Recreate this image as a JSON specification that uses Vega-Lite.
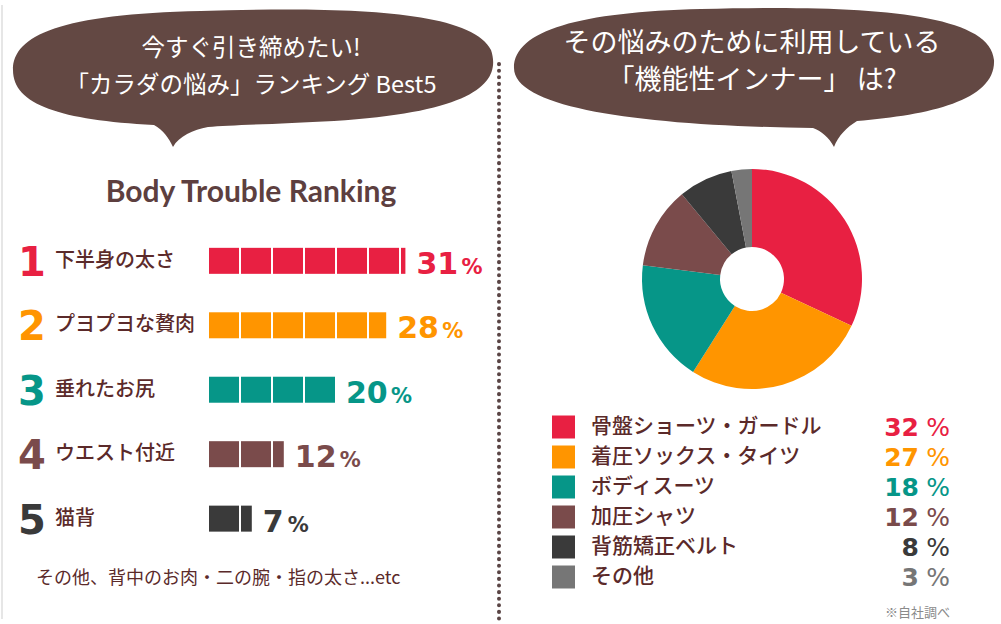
{
  "$schema": "https://vega.github.io/schema/vega-lite/v6.json",
  "padding": 0,
  "background": "#ffffff",
  "config": {"view": {"stroke": null}},
  "datasets": {
    "titles": [
      {"id": "L", "text": "今すぐ引き締めたい!\n「カラダの悩み」ランキング Best5"},
      {"id": "R", "text": "その悩みのために利用している\n「機能性インナー」 は?"},
      {"id": "H", "text": "Body Trouble Ranking"},
      {"id": "LF", "text": "その他、背中のお肉・二の腕・指の太さ...etc"},
      {"id": "RF", "text": "※自社調べ"}
    ],
    "ranking": [
      {"rank": 1, "name": "下半身の太さ", "pct": 31},
      {"rank": 2, "name": "プヨプヨな贅肉", "pct": 28},
      {"rank": 3, "name": "垂れたお尻", "pct": 20},
      {"rank": 4, "name": "ウエスト付近", "pct": 12},
      {"rank": 5, "name": "猫背", "pct": 7}
    ],
    "blocks": [
      {"rank": 1, "from": 0, "to": 5}, {"rank": 1, "from": 5, "to": 10}, {"rank": 1, "from": 10, "to": 15},
      {"rank": 1, "from": 15, "to": 20}, {"rank": 1, "from": 20, "to": 25}, {"rank": 1, "from": 25, "to": 30},
      {"rank": 1, "from": 30, "to": 31},
      {"rank": 2, "from": 0, "to": 5}, {"rank": 2, "from": 5, "to": 10}, {"rank": 2, "from": 10, "to": 15},
      {"rank": 2, "from": 15, "to": 20}, {"rank": 2, "from": 20, "to": 25}, {"rank": 2, "from": 25, "to": 28},
      {"rank": 3, "from": 0, "to": 5}, {"rank": 3, "from": 5, "to": 10}, {"rank": 3, "from": 10, "to": 15},
      {"rank": 3, "from": 15, "to": 20},
      {"rank": 4, "from": 0, "to": 5}, {"rank": 4, "from": 5, "to": 10}, {"rank": 4, "from": 10, "to": 12},
      {"rank": 5, "from": 0, "to": 5}, {"rank": 5, "from": 5, "to": 7}
    ],
    "inner": [
      {"ord": 1, "name": "骨盤ショーツ・ガードル", "pct": 32},
      {"ord": 2, "name": "着圧ソックス・タイツ", "pct": 27},
      {"ord": 3, "name": "ボディスーツ", "pct": 18},
      {"ord": 4, "name": "加圧シャツ", "pct": 12},
      {"ord": 5, "name": "背筋矯正ベルト", "pct": 8},
      {"ord": 6, "name": "その他", "pct": 3}
    ]
  },
  "spacing": 1,
  "bounds": "flush",
  "resolve": {"scale": {"color": "independent"}},
  "hconcat": [
    {
      "width": 500,
      "height": 624,
      "layer": [
        {
          "data": {"name": "titles"},
          "transform": [{"filter": "datum.id === 'L'"}],
          "mark": {"type": "rule", "stroke": "#e6e6e6", "strokeWidth": 2},
          "encoding": {
            "x": {"datum": -32.344, "type": "quantitative", "scale": {"domain": [-32.5, 45.625], "nice": false, "zero": false}, "axis": null},
            "y": {"datum": -2.9695, "type": "quantitative", "scale": {"domain": [-2.9695, 6.5573], "nice": false, "zero": false, "reverse": true}, "axis": null},
            "y2": {"datum": 6.5573}
          }
        },
        {
          "data": {"name": "titles"},
          "transform": [{"filter": "datum.id === 'L'"}],
          "mark": {
            "type": "point",
            "shape": "M -238 -242 C -238 -277 -190 -298 -50 -301 C 80 -305 220 -304 240 -262 C 250 -232 230 -200 83 -191 C 30 -188 -20 -187 -43 -185 C -58 -182 -72 -176 -78 -165 C -82 -174 -88 -182 -97 -187 C -190 -192 -238 -207 -238 -242 Z",
            "size": 4,
            "filled": true,
            "fill": "#634843",
            "strokeWidth": 0,
            "opacity": 1
          },
          "encoding": {}
        },
        {
          "data": {"name": "titles"},
          "transform": [{"filter": "datum.id === 'L'"}],
          "mark": {"type": "text", "lineBreak": "\n", "lineHeight": 37, "align": "center", "baseline": "middle", "font": "Noto Sans CJK JP", "fontSize": 23.5, "color": "#ffffff"},
          "encoding": {
            "y": {"datum": -2.29, "type": "quantitative", "scale": {"domain": [-2.9695, 6.5573], "nice": false, "zero": false, "reverse": true}, "axis": null},
            "text": {"field": "text"}
          }
        },
        {
          "data": {"name": "titles"},
          "transform": [{"filter": "datum.id === 'H'"}],
          "mark": {"type": "text", "align": "center", "baseline": "middle", "font": "Lato", "fontWeight": "bold", "fontSize": 30, "color": "#5d3f3f"},
          "encoding": {
            "y": {"datum": -0.0458, "type": "quantitative", "scale": {"domain": [-2.9695, 6.5573], "nice": false, "zero": false, "reverse": true}, "axis": null},
            "text": {"field": "text"}
          }
        },
        {
          "data": {"name": "titles"},
          "transform": [{"filter": "datum.id === 'L'"}],
          "mark": {"type": "rule", "stroke": "#5a4545", "strokeWidth": 4, "strokeCap": "round", "strokeDash": [0.1, 6.5]},
          "encoding": {
            "x": {"datum": 45.3125, "type": "quantitative", "scale": {"domain": [-32.5, 45.625], "nice": false, "zero": false}, "axis": null},
            "y": {"datum": -2.0534, "type": "quantitative", "scale": {"domain": [-2.9695, 6.5573], "nice": false, "zero": false, "reverse": true}, "axis": null},
            "y2": {"datum": 6.5573}
          }
        },
        {
          "data": {"name": "blocks"},
          "mark": {"type": "bar", "size": 26, "x2Offset": -2},
          "encoding": {
            "x": {"field": "from", "type": "quantitative", "scale": {"domain": [-32.5, 45.625], "nice": false, "zero": false}, "axis": null},
            "x2": {"field": "to"},
            "y": {"field": "rank", "type": "quantitative", "scale": {"domain": [-2.9695, 6.5573], "nice": false, "zero": false, "reverse": true}, "axis": null},
            "color": {"field": "rank", "type": "nominal", "scale": {"domain": [1, 2, 3, 4, 5], "range": ["#e82042", "#ff9500", "#069688", "#7a4b4b", "#3a3a3a"]}, "legend": null}
          }
        },
        {
          "data": {"name": "ranking"},
          "mark": {"type": "text", "align": "center", "baseline": "alphabetic", "dy": 15, "font": "DejaVu Sans", "fontWeight": "bold", "fontSize": 40},
          "encoding": {
            "x": {"datum": -27.66, "type": "quantitative", "scale": {"domain": [-32.5, 45.625], "nice": false, "zero": false}, "axis": null},
            "y": {"field": "rank", "type": "quantitative", "scale": {"domain": [-2.9695, 6.5573], "nice": false, "zero": false, "reverse": true}, "axis": null},
            "text": {"field": "rank"},
            "color": {"field": "rank", "type": "nominal", "scale": {"domain": [1, 2, 3, 4, 5], "range": ["#e82042", "#ff9500", "#069688", "#7a4b4b", "#3a3a3a"]}, "legend": null}
          }
        },
        {
          "data": {"name": "ranking"},
          "mark": {"type": "text", "align": "left", "baseline": "middle", "font": "Noto Sans CJK JP", "fontWeight": 500, "fontSize": 20, "color": "#5b2a2a"},
          "encoding": {
            "x": {"datum": -24.06, "type": "quantitative", "scale": {"domain": [-32.5, 45.625], "nice": false, "zero": false}, "axis": null},
            "y": {"field": "rank", "type": "quantitative", "scale": {"domain": [-2.9695, 6.5573], "nice": false, "zero": false, "reverse": true}, "axis": null},
            "text": {"field": "name"}
          }
        },
        {
          "data": {"name": "ranking"},
          "mark": {"type": "text", "align": "left", "baseline": "alphabetic", "dx": 9, "dy": 13, "font": "DejaVu Sans", "fontWeight": "bold", "fontSize": 30},
          "encoding": {
            "x": {"field": "pct", "type": "quantitative", "scale": {"domain": [-32.5, 45.625], "nice": false, "zero": false}, "axis": null},
            "y": {"field": "rank", "type": "quantitative", "scale": {"domain": [-2.9695, 6.5573], "nice": false, "zero": false, "reverse": true}, "axis": null},
            "text": {"field": "pct"},
            "color": {"field": "rank", "type": "nominal", "scale": {"domain": [1, 2, 3, 4, 5], "range": ["#e82042", "#ff9500", "#069688", "#7a4b4b", "#3a3a3a"]}, "legend": null}
          }
        },
        {
          "data": {"name": "ranking"},
          "transform": [{"filter": "datum.pct >= 10"}],
          "mark": {"type": "text", "text": "%", "align": "left", "baseline": "alphabetic", "dx": 54, "dy": 13, "font": "DejaVu Sans", "fontWeight": "bold", "fontSize": 21},
          "encoding": {
            "x": {"field": "pct", "type": "quantitative", "scale": {"domain": [-32.5, 45.625], "nice": false, "zero": false}, "axis": null},
            "y": {"field": "rank", "type": "quantitative", "scale": {"domain": [-2.9695, 6.5573], "nice": false, "zero": false, "reverse": true}, "axis": null},
            "color": {"field": "rank", "type": "nominal", "scale": {"domain": [1, 2, 3, 4, 5], "range": ["#e82042", "#ff9500", "#069688", "#7a4b4b", "#3a3a3a"]}, "legend": null}
          }
        },
        {
          "data": {"name": "ranking"},
          "transform": [{"filter": "datum.pct < 10"}],
          "mark": {"type": "text", "text": "%", "align": "left", "baseline": "alphabetic", "dx": 34, "dy": 13, "font": "DejaVu Sans", "fontWeight": "bold", "fontSize": 21},
          "encoding": {
            "x": {"field": "pct", "type": "quantitative", "scale": {"domain": [-32.5, 45.625], "nice": false, "zero": false}, "axis": null},
            "y": {"field": "rank", "type": "quantitative", "scale": {"domain": [-2.9695, 6.5573], "nice": false, "zero": false, "reverse": true}, "axis": null},
            "color": {"field": "rank", "type": "nominal", "scale": {"domain": [1, 2, 3, 4, 5], "range": ["#e82042", "#ff9500", "#069688", "#7a4b4b", "#3a3a3a"]}, "legend": null}
          }
        },
        {
          "data": {"name": "titles"},
          "transform": [{"filter": "datum.id === 'LF'"}],
          "mark": {"type": "text", "align": "left", "baseline": "middle", "font": "Noto Sans CJK JP", "fontSize": 18, "color": "#5b2a2a"},
          "encoding": {
            "x": {"datum": -27.03, "type": "quantitative", "scale": {"domain": [-32.5, 45.625], "nice": false, "zero": false}, "axis": null},
            "y": {"datum": 5.9313, "type": "quantitative", "scale": {"domain": [-2.9695, 6.5573], "nice": false, "zero": false, "reverse": true}, "axis": null},
            "text": {"field": "text"}
          }
        }
      ]
    },
    {
      "width": 500,
      "height": 558,
      "layer": [
        {
          "data": {"name": "titles"},
          "transform": [{"filter": "datum.id === 'R'"}],
          "mark": {
            "type": "point",
            "shape": "M -238 -211 C -238 -249 -171 -267 -51 -270 C 99 -274 239 -269 242 -219 C 244 -179 179 -164 105 -158 C 95 -152 86 -143 82 -132 C 77 -142 69 -148 61 -151 C -101 -153 -238 -169 -238 -211 Z",
            "size": 4,
            "filled": true,
            "fill": "#634843",
            "strokeWidth": 0,
            "opacity": 1
          },
          "encoding": {}
        },
        {
          "data": {"name": "titles"},
          "transform": [{"filter": "datum.id === 'R'"}],
          "mark": {"type": "text", "lineBreak": "\n", "lineHeight": 37, "align": "center", "baseline": "middle", "font": "Noto Sans CJK JP", "fontSize": 27, "color": "#ffffff"},
          "encoding": {
            "y": {"datum": -11.75, "type": "quantitative", "scale": {"domain": [-13.2333, 5.3667], "nice": false, "zero": false, "reverse": true}, "axis": null},
            "text": {"field": "text"}
          }
        },
        {
          "data": {"name": "inner"},
          "mark": {"type": "arc", "innerRadius": 32, "outerRadius": 110},
          "encoding": {
            "theta": {"field": "pct", "type": "quantitative", "stack": true},
            "order": {"field": "ord", "type": "quantitative"},
            "color": {"field": "ord", "type": "nominal", "scale": {"domain": [1, 2, 3, 4, 5, 6], "range": ["#e82042", "#ff9500", "#069688", "#7a4b4b", "#3a3a3a", "#767676"]}, "legend": null}
          }
        },
        {
          "data": {"name": "inner"},
          "mark": {"type": "point", "shape": "square", "size": 529, "filled": true, "opacity": 1, "strokeWidth": 0},
          "encoding": {
            "x": {"datum": 12.3, "type": "quantitative", "scale": {"domain": [0, 100], "nice": false, "zero": false}, "axis": null},
            "y": {"field": "ord", "type": "quantitative", "scale": {"domain": [-13.2333, 5.3667], "nice": false, "zero": false, "reverse": true}, "axis": null},
            "color": {"field": "ord", "type": "nominal", "scale": {"domain": [1, 2, 3, 4, 5, 6], "range": ["#e82042", "#ff9500", "#069688", "#7a4b4b", "#3a3a3a", "#767676"]}, "legend": null}
          }
        },
        {
          "data": {"name": "inner"},
          "mark": {"type": "text", "align": "left", "baseline": "middle", "font": "Noto Sans CJK JP", "fontWeight": 500, "fontSize": 21, "color": "#5b2a2a"},
          "encoding": {
            "x": {"datum": 17.8, "type": "quantitative", "scale": {"domain": [0, 100], "nice": false, "zero": false}, "axis": null},
            "y": {"field": "ord", "type": "quantitative", "scale": {"domain": [-13.2333, 5.3667], "nice": false, "zero": false, "reverse": true}, "axis": null},
            "text": {"field": "name"}
          }
        },
        {
          "data": {"name": "inner"},
          "mark": {"type": "text", "align": "right", "baseline": "alphabetic", "dy": 9, "font": "DejaVu Sans", "fontWeight": "bold", "fontSize": 25},
          "encoding": {
            "x": {"datum": 83.4, "type": "quantitative", "scale": {"domain": [0, 100], "nice": false, "zero": false}, "axis": null},
            "y": {"field": "ord", "type": "quantitative", "scale": {"domain": [-13.2333, 5.3667], "nice": false, "zero": false, "reverse": true}, "axis": null},
            "text": {"field": "pct"},
            "color": {"field": "ord", "type": "nominal", "scale": {"domain": [1, 2, 3, 4, 5, 6], "range": ["#e82042", "#ff9500", "#069688", "#7a4b4b", "#3a3a3a", "#767676"]}, "legend": null}
          }
        },
        {
          "data": {"name": "inner"},
          "mark": {"type": "text", "text": "%", "align": "right", "baseline": "alphabetic", "dy": 9, "font": "DejaVu Sans", "fontSize": 25},
          "encoding": {
            "x": {"datum": 89.6, "type": "quantitative", "scale": {"domain": [0, 100], "nice": false, "zero": false}, "axis": null},
            "y": {"field": "ord", "type": "quantitative", "scale": {"domain": [-13.2333, 5.3667], "nice": false, "zero": false, "reverse": true}, "axis": null},
            "color": {"field": "ord", "type": "nominal", "scale": {"domain": [1, 2, 3, 4, 5, 6], "range": ["#e82042", "#ff9500", "#069688", "#7a4b4b", "#3a3a3a", "#767676"]}, "legend": null}
          }
        },
        {
          "data": {"name": "titles"},
          "transform": [{"filter": "datum.id === 'RF'"}],
          "mark": {"type": "text", "align": "right", "baseline": "middle", "font": "Noto Sans CJK JP", "fontSize": 13, "color": "#8a8a8a"},
          "encoding": {
            "x": {"datum": 89.6, "type": "quantitative", "scale": {"domain": [0, 100], "nice": false, "zero": false}, "axis": null},
            "y": {"datum": 7.2, "type": "quantitative", "scale": {"domain": [-13.2333, 5.3667], "nice": false, "zero": false, "reverse": true}, "axis": null},
            "text": {"field": "text"}
          }
        }
      ]
    }
  ]
}
